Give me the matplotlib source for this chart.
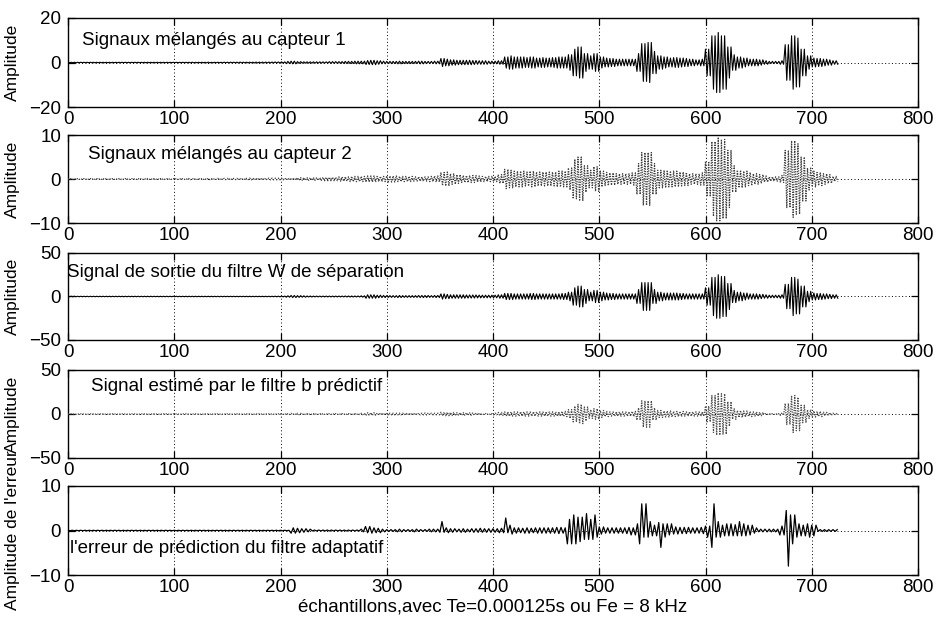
import numpy as np
import matplotlib
matplotlib.use("Agg")
import matplotlib.pyplot as plt

plt.rcParams['font.family'] = ['Liberation Sans', 'DejaVu Sans']

# Amplitude envelopes of each trace, one value per block of 5 samples (0..724)
BLOCK = 5

s1_amp = [
    0.1, 0.1, 0.1, 0.1, 0.1, 0.1, 0.1, 0.1, 0.1, 0.1,
    0.1, 0.1, 0.1, 0.1, 0.1, 0.1, 0.1, 0.1, 0.1, 0.1,
    0.1, 0.1, 0.1, 0.15, 0.1, 0.1, 0.15, 0.1, 0.1, 0.15,
    0.15, 0.15, 0.2, 0.15, 0.15, 0.2, 0.2, 0.2, 0.2, 0.25,
    0.3, 0.5, 0.6, 0.4, 0.3, 0.3, 0.3, 0.3, 0.3, 0.4,
    0.4, 0.4, 0.5, 0.5, 0.6, 0.6, 0.9, 1.0, 0.8, 0.6,
    0.5, 0.5, 0.6, 0.5, 0.5, 0.5, 0.6, 0.5, 0.5, 0.6,
    1.8, 1.5, 1.2, 1.0, 1.0, 1.0, 0.9, 0.8, 0.8, 0.6,
    0.6, 0.8, 2.5, 3.0, 2.5, 2.5, 2.2, 2.5, 2.0, 2.2,
    2.0, 2.2, 2.5, 2.5, 3.5, 6.0, 7.0, 4.0, 3.0, 4.0,
    2.5, 2.0, 1.8, 1.5, 1.5, 1.5, 1.5, 4.0, 8.5, 9.0,
    5.0, 3.0, 2.5, 2.0, 2.2, 2.0, 1.8, 1.5, 1.2, 1.5,
    6.0, 12.0, 13.5, 12.0, 7.0, 3.5, 2.5, 2.0, 1.5, 1.5,
    1.2, 0.8, 0.5, 0.5, 0.8, 8.0, 12.0, 11.0, 6.0, 3.0,
    2.0, 1.8, 1.5, 1.2, 0.8,
]

s2_amp = [
    0.1, 0.1, 0.1, 0.1, 0.1, 0.1, 0.1, 0.1, 0.1, 0.1,
    0.1, 0.1, 0.1, 0.1, 0.1, 0.1, 0.1, 0.1, 0.1, 0.1,
    0.1, 0.1, 0.1, 0.15, 0.1, 0.1, 0.15, 0.1, 0.15, 0.15,
    0.15, 0.15, 0.2, 0.15, 0.2, 0.2, 0.2, 0.2, 0.2, 0.2,
    0.2, 0.2, 0.2, 0.3, 0.3, 0.3, 0.3, 0.3, 0.4, 0.4,
    0.4, 0.5, 0.5, 0.6, 0.6, 0.6, 0.7, 0.7, 0.6, 0.6,
    0.7, 0.7, 0.6, 0.6, 0.6, 0.5, 0.5, 0.5, 0.6, 0.7,
    1.5, 1.6, 1.2, 1.0, 0.8, 0.8, 0.8, 0.7, 0.6, 0.6,
    0.6, 1.0, 2.2, 2.0, 1.8, 1.8, 1.6, 1.8, 1.6, 1.6,
    1.6, 1.6, 1.8, 1.8, 2.5, 4.5, 5.0, 3.0, 2.0, 2.8,
    1.8, 1.5, 1.4, 1.2, 1.2, 1.2, 1.4, 3.5, 6.0, 6.0,
    3.5, 2.0, 2.0, 1.8, 1.8, 1.6, 1.5, 1.2, 1.2, 1.4,
    4.0, 8.5, 9.5, 9.0, 6.5, 3.0, 2.0, 1.8, 1.5, 1.2,
    1.0, 0.7, 0.5, 0.5, 0.8, 6.5, 8.7, 8.0, 5.0, 2.5,
    1.8, 1.5, 1.2, 1.0, 0.6,
]

s3_amp = [
    0.3, 0.3, 0.3, 0.3, 0.3, 0.3, 0.3, 0.3, 0.3, 0.3,
    0.3, 0.3, 0.3, 0.3, 0.3, 0.3, 0.3, 0.3, 0.3, 0.3,
    0.3, 0.3, 0.3, 0.3, 0.3, 0.3, 0.3, 0.3, 0.3, 0.3,
    0.3, 0.3, 0.3, 0.3, 0.3, 0.3, 0.3, 0.3, 0.3, 0.4,
    0.5, 0.8, 1.2, 1.0, 0.8, 0.6, 0.5, 0.5, 0.5, 0.5,
    0.5, 0.5, 0.6, 0.6, 0.6, 0.8, 2.0, 2.0, 1.5, 1.2,
    1.0, 1.0, 1.2, 1.0, 1.0, 1.0, 1.2, 1.2, 1.0, 1.2,
    3.0, 2.5, 2.0, 2.0, 2.0, 1.8, 1.8, 1.6, 1.5, 1.5,
    1.5, 2.0, 3.5, 3.5, 3.0, 3.0, 3.0, 3.5, 3.0, 3.0,
    3.0, 3.0, 3.0, 3.5, 5.0, 10.0, 12.0, 8.0, 5.0, 7.0,
    5.0, 4.0, 3.5, 3.0, 3.0, 3.0, 3.0, 8.0, 16.0, 16.0,
    8.0, 5.0, 4.0, 4.0, 4.0, 3.5, 3.0, 3.0, 3.0, 3.0,
    10.0, 22.0, 25.0, 23.0, 15.0, 7.0, 5.0, 4.0, 3.0, 3.0,
    2.5, 2.0, 1.5, 1.5, 2.0, 14.0, 22.0, 20.0, 12.0, 6.0,
    4.0, 3.5, 3.0, 2.5, 2.0,
]

s4_amp = [
    0.2, 0.2, 0.2, 0.2, 0.2, 0.2, 0.2, 0.2, 0.2, 0.2,
    0.2, 0.2, 0.2, 0.2, 0.2, 0.2, 0.2, 0.2, 0.2, 0.2,
    0.2, 0.2, 0.2, 0.2, 0.2, 0.2, 0.2, 0.2, 0.2, 0.2,
    0.2, 0.2, 0.2, 0.2, 0.2, 0.2, 0.2, 0.2, 0.2, 0.3,
    0.4, 0.6, 0.8, 0.8, 0.6, 0.5, 0.5, 0.5, 0.5, 0.5,
    0.5, 0.5, 0.5, 0.6, 0.6, 0.8, 1.5, 1.5, 1.2, 1.0,
    1.0, 1.0, 1.0, 1.0, 1.0, 1.0, 1.0, 1.2, 1.0, 1.0,
    2.0, 2.0, 1.8, 1.5, 1.5, 1.5, 1.2, 1.2, 0.6, 0.6,
    1.0, 1.8, 2.5, 2.5, 2.5, 2.5, 2.5, 2.5, 2.5, 2.5,
    2.5, 2.5, 2.5, 3.0, 5.0, 9.0, 11.0, 8.0, 5.0, 6.0,
    4.0, 3.0, 2.5, 2.5, 2.5, 2.5, 3.0, 7.0, 15.0, 15.0,
    7.0, 4.0, 3.5, 3.5, 3.0, 3.0, 2.5, 2.5, 2.5, 2.5,
    9.0, 21.0, 24.0, 23.0, 14.0, 6.0, 4.0, 3.5, 3.0, 2.5,
    2.0, 0.6, 0.5, 0.5, 1.5, 12.0, 21.0, 19.0, 10.0, 5.0,
    3.5, 3.0, 2.0, 1.5, 1.0,
]

# The prediction error is one-sided in places, so keep peaks and troughs apart
s5_up = [
    0.05, 0.05, 0.05, 0.05, 0.05, 0.05, 0.05, 0.05, 0.05, 0.05,
    0.05, 0.05, 0.05, 0.05, 0.05, 0.05, 0.05, 0.05, 0.05, 0.05,
    0.05, 0.05, 0.05, 0.05, 0.05, 0.05, 0.05, 0.05, 0.05, 0.05,
    0.05, 0.05, 0.05, 0.05, 0.05, 0.05, 0.05, 0.05, 0.05, 0.05,
    0.05, 0.05, 0.6, 0.5, 0.4, 0.3, 0.1, 0.1, 0.1, 0.1,
    0.1, 0.1, 0.1, 0.1, 0.1, 0.3, 0.9, 0.6, 0.5, 0.3,
    0.2, 0.2, 0.3, 0.2, 0.2, 0.3, 0.2, 0.2, 0.3, 0.3,
    2.0, 0.6, 0.4, 0.3, 0.4, 0.3, 0.4, 0.5, 0.4, 0.4,
    0.4, 0.5, 2.8, 1.2, 0.6, 0.5, 0.6, 0.5, 0.6, 0.6,
    0.6, 0.6, 0.7, 0.6, 2.5, 3.5, 3.0, 3.8, 2.5, 3.5,
    0.8, 0.6, 0.6, 0.6, 0.6, 0.7, 0.6, 1.5, 6.0, 2.0,
    1.2, 1.8, 1.5, 1.5, 0.8, 0.7, 0.7, 0.6, 0.6, 0.7,
    1.0, 6.0, 2.0, 1.2, 1.5, 1.3, 2.0, 1.5, 1.2, 0.6,
    0.3, 0.3, 0.3, 0.3, 1.0, 4.5, 3.5, 1.5, 1.2, 1.5,
    1.2, 0.2, 0.2, 0.2, 0.2,
]

s5_down = [
    0.05, 0.05, 0.05, 0.05, 0.05, 0.05, 0.05, 0.05, 0.05, 0.05,
    0.05, 0.05, 0.05, 0.05, 0.05, 0.05, 0.05, 0.05, 0.05, 0.05,
    0.05, 0.05, 0.05, 0.05, 0.05, 0.05, 0.05, 0.05, 0.05, 0.05,
    0.05, 0.05, 0.05, 0.05, 0.05, 0.05, 0.05, 0.05, 0.05, 0.05,
    0.05, 0.05, 0.6, 0.5, 0.4, 0.3, 0.1, 0.1, 0.1, 0.1,
    0.1, 0.1, 0.1, 0.1, 0.1, 0.3, 0.5, 0.6, 0.5, 0.3,
    0.2, 0.2, 0.3, 0.2, 0.2, 0.3, 0.2, 0.2, 0.3, 0.3,
    0.4, 0.5, 0.4, 0.3, 0.4, 0.3, 0.4, 0.4, 0.4, 0.4,
    0.4, 0.5, 0.5, 0.8, 0.6, 0.5, 0.6, 0.5, 0.6, 0.6,
    0.6, 0.6, 0.7, 0.6, 3.0, 3.0, 2.5, 2.0, 2.0, 1.5,
    0.8, 0.6, 0.6, 0.6, 0.6, 0.7, 1.0, 3.0, 1.5, 1.5,
    1.2, 3.8, 1.5, 1.0, 0.8, 0.7, 0.7, 0.6, 0.6, 0.7,
    1.5, 3.8, 1.5, 1.2, 1.2, 1.2, 1.2, 1.2, 1.0, 0.6,
    0.3, 0.3, 0.3, 0.3, 1.0, 8.0, 3.0, 1.5, 1.2, 1.5,
    1.2, 0.2, 0.2, 0.2, 0.2,
]

titles = [
    "Signaux mélangés au capteur 1",
    "Signaux mélangés au capteur 2",
    "Signal de sortie du filtre W de séparation",
    "Signal estimé par le filtre b prédictif",
    "l'erreur de prédiction du filtre adaptatif",
]
title_pos = [(13, 10), (19, 5.5), (-1, 28), (22, 31), (2, -4)]
y_limits = [20, 10, 50, 50, 10]
y_labels = ["Amplitude", "Amplitude", "Amplitude", "Amplitude",
            "Amplitude de l'erreur"]
x_ticks = [0, 100, 200, 300, 400, 500, 600, 700, 800]
x_label = "échantillons,avec Te=0.000125s ou Fe = 8 kHz"


def trace(upper, lower, step=1.5):
    """Oscillating trace that swings between the block envelopes."""
    upper = np.asarray(upper, dtype=float)
    lower = np.asarray(lower, dtype=float)
    n = len(upper) * BLOCK
    x = np.arange(0, n, step)
    idx = (x // BLOCK).astype(int)
    swing = np.where(np.arange(len(x)) % 2 == 0, 1.0, -1.0)
    y = np.where(swing > 0, upper[idx], -lower[idx])
    return x, y


series = [
    (s1_amp, s1_amp),
    (s2_amp, s2_amp),
    (s3_amp, s3_amp),
    (s4_amp, s4_amp),
    (s5_up, s5_down),
]
styles = [
    dict(color="black", lw=0.8, ls="-"),
    dict(color="0.25", lw=0.9, ls=(0, (1, 1))),
    dict(color="black", lw=0.8, ls="-"),
    dict(color="0.3", lw=0.9, ls=(0, (1, 1))),
    dict(color="black", lw=0.9, ls="-"),
]
steps = [1.5, 1.5, 1.5, 1.5, 2.0]

W, H = 940, 619
tops = [18, 135, 253, 370, 486]
bottoms = [107, 223, 340, 458, 575]
left_px, right_px = 68, 918

fig = plt.figure(figsize=(W / 100, H / 100), dpi=100)
fig.patch.set_facecolor("white")

TXT = 13.5
for i in range(5):
    rect = [left_px / W, 1 - bottoms[i] / H,
            (right_px - left_px) / W, (bottoms[i] - tops[i]) / H]
    ax = fig.add_axes(rect)
    x, y = trace(*series[i], step=steps[i])
    ax.plot(x, y, **styles[i], zorder=3)

    lim = y_limits[i]
    ax.set_xlim(x_ticks[0], x_ticks[-1])
    ax.set_ylim(-lim, lim)
    ax.set_xticks(x_ticks)
    ax.set_yticks([-lim, 0, lim])
    ax.grid(True, color="black", lw=0.7, ls=(0, (1, 2.5)))
    ax.tick_params(direction="in", top=True, right=True, length=5,
                   width=0.9, labelsize=TXT, pad=3)
    ax.tick_params(axis="y", pad=5)
    for sp in ax.spines.values():
        sp.set_linewidth(1.0)
        sp.set_color("black")

    ax.text(title_pos[i][0], title_pos[i][1], titles[i], fontsize=TXT,
            ha="left", va="center", zorder=4)
    ax.set_ylabel(y_labels[i], fontsize=12.5)
    ax.yaxis.set_label_coords((20 - left_px) / (right_px - left_px), 0.5)

    if i == 4:
        ax.set_xlabel(x_label, fontsize=TXT)
        ax.xaxis.set_label_coords(0.5, (575 - 607) / (575 - 486))
        ax.xaxis.label.set_va("center")

fig.savefig("out.png", dpi=100)
